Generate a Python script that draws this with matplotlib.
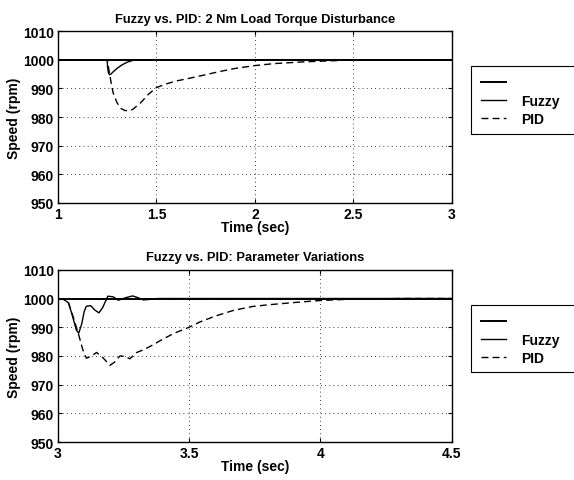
import numpy as np
import matplotlib.pyplot as plt
from matplotlib.patches import Rectangle

plt.rcParams['font.family'] = ['Liberation Sans', 'DejaVu Sans']
plt.rcParams['font.weight'] = 'bold'

# 2 Nm load torque disturbance at t = 1.25 s
t_load_ref = [1.0, 3.0]
w_load_ref = [1000, 1000]

t_load_fuzzy = [1.0, 1.25, 1.252, 1.256, 1.262, 1.27, 1.28, 1.30, 1.32, 1.34, 1.36, 1.38, 1.42, 1.5, 3.0]
w_load_fuzzy = [1000, 1000, 997.5, 995.5, 994.8, 995.1, 995.8, 997.0, 998.0, 998.8, 999.4, 999.8, 1000, 1000, 1000]

t_load_pid = [1.0, 1.25, 1.26, 1.27, 1.28, 1.30, 1.32, 1.34, 1.36, 1.38, 1.42, 1.46, 1.50,
              1.55, 1.60, 1.67, 1.75, 1.82, 1.90, 2.0, 2.1, 2.25, 2.4, 2.5, 3.0]
w_load_pid = [1000, 1000, 996, 992, 988.5, 985, 983, 982.3, 982.2, 982.7, 985, 988, 990.3,
              991.6, 992.6, 993.6, 994.8, 995.9, 997.0, 998.0, 998.7, 999.3, 999.7, 1000, 1000]

# parameter variations starting at t = 3 s
t_par_ref = [3.0, 4.5]
w_par_ref = [1000, 1000]

t_par_fuzzy = [3.0, 3.02, 3.04, 3.055, 3.07, 3.079, 3.09, 3.10, 3.108, 3.125, 3.14, 3.156,
               3.17, 3.19, 3.21, 3.23, 3.255, 3.284, 3.305, 3.325, 3.35, 3.38, 4.5]
w_par_fuzzy = [1000, 999.8, 998.5, 994, 989, 987.9, 991, 995.5, 997.3, 997.5, 996, 995,
               996.8, 1000.8, 1000.6, 999.4, 1000.2, 1000.9, 1000.3, 999.5, 999.7, 1000, 1000]

t_par_pid = [3.0, 3.02, 3.04, 3.06, 3.08, 3.095, 3.108, 3.125, 3.147, 3.17, 3.198, 3.215,
             3.236, 3.255, 3.274, 3.30, 3.325, 3.355, 3.389, 3.44, 3.5, 3.54, 3.6, 3.67,
             3.74, 3.8, 3.925, 4.0, 4.1, 4.2, 4.3, 4.5]
w_par_pid = [1000, 999.8, 998.5, 993, 987, 982, 979.2, 979.8, 981.2, 979.5, 976.7, 977.8,
             980, 979.8, 979, 981.2, 982.1, 983.5, 985.3, 987.8, 990, 991.8, 993.9, 995.9,
             997.2, 997.8, 998.8, 999.3, 999.7, 999.9, 1000, 1000]

fig = plt.figure(figsize=(5.74, 4.81), dpi=100)
ax1 = fig.add_axes([0.101, 0.576, 0.686, 0.357])
ax2 = fig.add_axes([0.101, 0.079, 0.686, 0.358])

# (axes, ref, fuzzy, pid, title, xlim, xticks, xticklabels, legend box bottom, legend box height)
panels = [
    (ax1, t_load_ref, w_load_ref, t_load_fuzzy, w_load_fuzzy, t_load_pid, w_load_pid,
     'Fuzzy vs. PID: 2 Nm Load Torque Disturbance', (1, 3), [1, 1.5, 2, 2.5, 3],
     ['1', '1.5', '2', '2.5', '3'], 0.7193, 0.1414),
    (ax2, t_par_ref, w_par_ref, t_par_fuzzy, w_par_fuzzy, t_par_pid, w_par_pid,
     'Fuzzy vs. PID: Parameter Variations', (3, 4.5), [3, 3.5, 4, 4.5],
     ['3', '3.5', '4', '4.5'], 0.2245, 0.1393),
]

for ax, tr, wr, tf, wf, tp, wp, title, xlim, xt, xtl, box_y, box_h in panels:
    ax.plot(tr, wr, color='black', lw=1.4, label=' ')
    ax.plot(tf, wf, color='black', lw=1.0, label='Fuzzy')
    ax.plot(tp, wp, color='black', lw=1.0, ls=(0, (5, 3)), label='PID')
    ax.set_xlim(*xlim)
    ax.set_ylim(950, 1010)
    ax.set_xticks(xt)
    ax.set_xticklabels(xtl)
    ax.set_yticks(range(950, 1011, 10))
    ax.grid(True, color='black', ls=(0, (1, 4)), lw=0.6)
    ax.tick_params(direction='in', top=True, right=True, labelsize=10, length=3, pad=3)
    for s in ax.spines.values():
        s.set_linewidth(1.0)
    ax.set_title(title, fontsize=9.3, fontweight='bold', pad=7)
    ax.set_xlabel('Time (sec)', fontsize=10, fontweight='bold', labelpad=-1)
    ax.set_ylabel('Speed (rpm)', fontsize=10, fontweight='bold', labelpad=1)

    # legend box runs off the right edge of the figure, so draw it by hand
    fig.add_artist(Rectangle((471 / 574, box_y), 0.3, box_h, transform=fig.transFigure,
                             facecolor='none', edgecolor='black', lw=0.8, clip_on=False, zorder=-1))
    ax.legend(loc='upper left', bbox_to_anchor=(471 / 574, box_y + box_h), bbox_transform=fig.transFigure,
              frameon=False, fontsize=10, handlelength=1.8, handletextpad=1.1,
              borderpad=0.7, labelspacing=0.3, borderaxespad=0)

fig.savefig('out.png', dpi=100)
